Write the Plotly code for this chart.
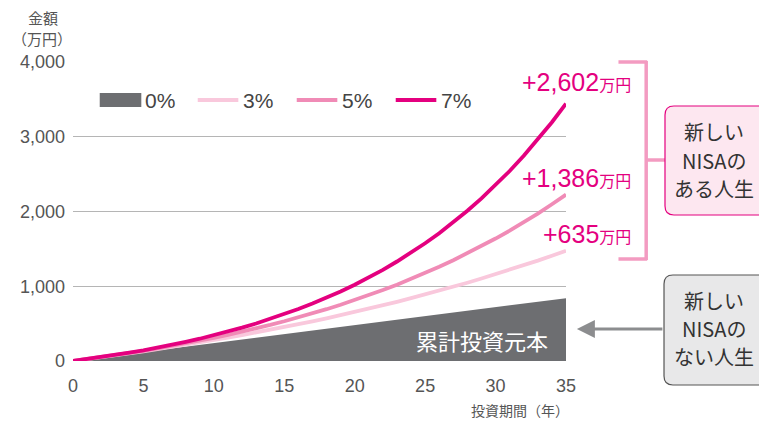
import plotly.graph_objects as go

# ---- data ----
years = list(range(0, 36))
principal_years = [0, 5, 10, 15, 20, 25, 30, 35]
principal = [0, 120, 240, 360, 480, 600, 720, 840]
r3 = [0, 24, 50, 75, 102, 130, 158, 187, 217, 248, 280, 312, 346, 381, 417, 454, 492, 531,
      571, 613, 655, 699, 745, 792, 840, 889, 940, 993, 1047, 1103, 1160, 1220, 1281, 1343,
      1408, 1475]
r5 = [0, 25, 51, 78, 106, 136, 168, 201, 235, 272, 310, 350, 392, 437, 483, 532, 583, 637,
      693, 753, 815, 880, 949, 1021, 1097, 1176, 1260, 1348, 1440, 1536, 1638, 1744, 1856,
      1973, 2097, 2226]
r7 = [0, 25, 52, 80, 111, 143, 178, 216, 256, 298, 344, 393, 446, 502, 562, 626, 695, 768,
      847, 931, 1021, 1117, 1220, 1331, 1449, 1575, 1710, 1855, 2010, 2175, 2352, 2542, 2745,
      2962, 3194, 3442]
gains = ["+635", "+1,386", "+2,602"]
legend_labels = ["0%", "3%", "5%", "7%"]
y_ticks = [0, 1000, 2000, 3000, 4000]
y_tick_text = ["0", "1,000", "2,000", "3,000", "4,000"]
x_ticks = [0, 5, 10, 15, 20, 25, 30, 35]

C_GRAY = "#6d6e71"
C3 = "#f9c8dc"
C5 = "#f08bb6"
C7 = "#e4007f"
TXT = "#555555"
NUM_FONT = "Liberation Sans, Noto Sans CJK JP"
JP_FONT = "Noto Sans CJK JP, Liberation Sans"

# page is rendered with an 8px body margin; compensate
OFF = 8
W, H = 767 - OFF, 422 - OFF
# plot area in page pixels
L, R, T, B = 68, 566, 62, 361


def px(x):
    return (x - L) / (R - L)


def py(y):
    return (B - y) / (B - T)


fig = go.Figure()
fig.add_trace(go.Scatter(x=principal_years, y=principal, mode="lines", fill="tozeroy",
                         fillcolor=C_GRAY, line=dict(width=0, color=C_GRAY),
                         hoverinfo="skip", showlegend=False))
fig.add_trace(go.Scatter(x=years, y=r3, mode="lines", line=dict(color=C3, width=3.8),
                         showlegend=False, cliponaxis=False))
fig.add_trace(go.Scatter(x=years, y=r5, mode="lines", line=dict(color=C5, width=3.8),
                         showlegend=False, cliponaxis=False))
fig.add_trace(go.Scatter(x=years, y=r7, mode="lines", line=dict(color=C7, width=3.8),
                         showlegend=False, cliponaxis=False))

shapes = []
annos = []

# legend
leg_y = 100
items = [(95, C_GRAY, "rect"), (194, C3, "line"), (294, C5, "line"), (394, C7, "line")]
for (x0, col, kind), lab in zip(items, legend_labels):
    if kind == "rect":
        shapes.append(dict(type="rect", xref="paper", yref="paper",
                           x0=px(x0), x1=px(x0 + 42), y0=py(leg_y + 7), y1=py(leg_y - 7),
                           fillcolor=col, line=dict(width=0)))
    else:
        shapes.append(dict(type="line", xref="paper", yref="paper",
                           x0=px(x0), x1=px(x0 + 41), y0=py(leg_y), y1=py(leg_y),
                           line=dict(color=col, width=4)))
    annos.append(dict(xref="paper", yref="paper", x=px(x0 + 44), y=py(leg_y), text=lab,
                      showarrow=False, xanchor="left", yanchor="middle",
                      font=dict(family=NUM_FONT, size=21, color="#444")))

# gains labels
for g, yy in zip(gains, [234, 178, 82]):
    annos.append(dict(xref="paper", yref="paper", x=px(634), y=py(yy),
                      text=f"{g}<span style='font-size:16px'>万円</span>",
                      showarrow=False, xanchor="right", yanchor="middle",
                      font=dict(family=NUM_FONT, size=25, color=C7)))

# bracket
BR = "#f39bc1"
shapes += [
    dict(type="line", xref="paper", yref="paper", x0=px(647), x1=px(647), y0=py(61), y1=py(260),
         line=dict(color=BR, width=3.5)),
    dict(type="line", xref="paper", yref="paper", x0=px(619), x1=px(648), y0=py(62), y1=py(62),
         line=dict(color=BR, width=3.5)),
    dict(type="line", xref="paper", yref="paper", x0=px(619), x1=px(648), y0=py(259), y1=py(259),
         line=dict(color=BR, width=3.5)),
    dict(type="line", xref="paper", yref="paper", x0=px(647), x1=px(666), y0=py(160), y1=py(160),
         line=dict(color=BR, width=3.5)),
]


def rbox(x0, y0, x1, y1, r, fill, border):
    p = (f"M {px(x0 + r)},{py(y0)} L {px(x1)},{py(y0)} L {px(x1)},{py(y1)} "
         f"L {px(x0 + r)},{py(y1)} Q {px(x0)},{py(y1)} {px(x0)},{py(y1 - r)} "
         f"L {px(x0)},{py(y0 + r)} Q {px(x0)},{py(y0)} {px(x0 + r)},{py(y0)} Z")
    return dict(type="path", xref="paper", yref="paper", path=p, fillcolor=fill,
                line=dict(color=border, width=1.2))


shapes.append(rbox(666, 106, 780, 215, 9, "#fde7f0", "#e4007f"))
shapes.append(rbox(665, 275, 780, 385, 9, "#e8e8e9", "#555"))

for txt, yy in zip(["新しい", "NISAの", "ある人生"], [132, 160, 188]):
    annos.append(dict(xref="paper", yref="paper", x=px(716), y=py(yy), text=txt, showarrow=False,
                      xanchor="center", yanchor="middle",
                      font=dict(family=JP_FONT, size=20, color="#333")))
for txt, yy in zip(["新しい", "NISAの", "ない人生"], [300, 328, 356]):
    annos.append(dict(xref="paper", yref="paper", x=px(716), y=py(yy), text=txt, showarrow=False,
                      xanchor="center", yanchor="middle",
                      font=dict(family=JP_FONT, size=20, color="#333")))

# arrow
annos.append(dict(xref="paper", yref="paper", x=px(577), y=py(329), ax=87, ay=0, text="",
                  showarrow=True, arrowhead=2, arrowsize=1.2, arrowwidth=3,
                  arrowcolor="#8c8d8f"))

# label on area
annos.append(dict(xref="paper", yref="paper", x=px(481), y=py(340), text="累計投資元本",
                  showarrow=False, xanchor="center", yanchor="middle",
                  font=dict(family=JP_FONT, size=22, color="white")))

# axis titles
annos.append(dict(xref="paper", yref="paper", x=px(38), y=py(17), text="金額", showarrow=False,
                  xanchor="center", yanchor="middle", font=dict(family=JP_FONT, size=15, color=TXT)))
annos.append(dict(xref="paper", yref="paper", x=px(37), y=py(38), text="（万円）", showarrow=False,
                  xanchor="center", yanchor="middle", font=dict(family=JP_FONT, size=15, color=TXT)))
annos.append(dict(xref="paper", yref="paper", x=px(571), y=py(410), text="投資期間（年）",
                  showarrow=False, xanchor="right", yanchor="middle",
                  font=dict(family=JP_FONT, size=14, color=TXT)))

fig.update_layout(
    width=W, height=H,
    margin=dict(l=L - OFF, r=W - (R - OFF), t=T - OFF, b=H - (B - OFF)),
    paper_bgcolor="white", plot_bgcolor="white",
    showlegend=False,
    shapes=shapes, annotations=annos,
    xaxis=dict(range=[0, 35], tickvals=x_ticks, showgrid=False, zeroline=False, showline=False,
               ticks="", ticklabelstandoff=12,
               tickfont=dict(family=NUM_FONT, size=18, color=TXT), fixedrange=True),
    yaxis=dict(range=[0, 4000], tickvals=y_ticks, ticktext=y_tick_text, showgrid=True,
               gridcolor="#b5b5b5", gridwidth=1, zeroline=False, showline=False, ticks="",
               ticklabelstandoff=7,
               tickfont=dict(family=NUM_FONT, size=18, color=TXT), fixedrange=True),
)

fig.write_html("out.html")
